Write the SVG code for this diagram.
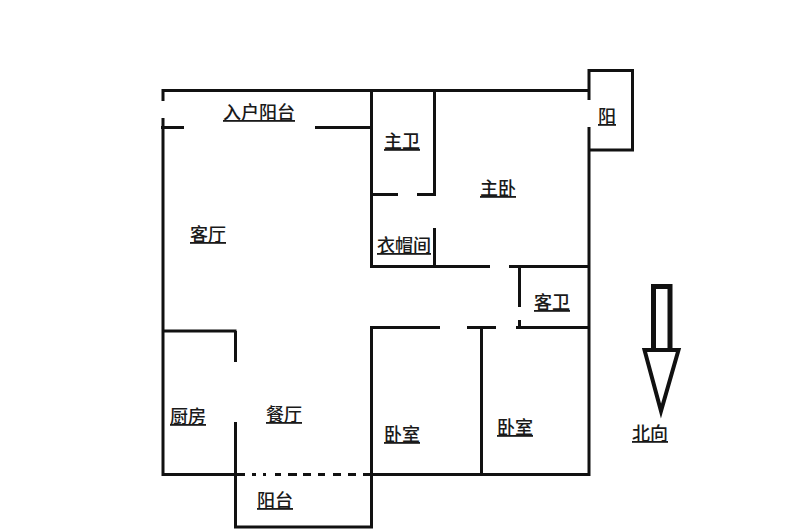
<svg xmlns="http://www.w3.org/2000/svg" width="800" height="531" viewBox="0 0 800 531">
<style>
.w{fill:none;stroke:#111;stroke-width:3;stroke-linecap:butt}
.t{font-family:"Noto Sans CJK SC","Noto Sans CJK JP",sans-serif;font-size:18px;font-weight:500;fill:#1a1a1a;text-decoration:underline}
</style>
<rect width="800" height="531" fill="#fff"/>
<g id="walls">
<path class="w" d="M163 101V90.500H589M163 118V474.500H236M161 127.500H184M315 127.500H372M371.500 92V266.500H490M434.500 91V195M372 194.500H398M417 194.500H436M434.500 228V266M509 266.500H590M519.500 266V307M519.500 320V328M516 327.500H590M467 327.500H496M371.500 527V327.500H440M589 100V70.500H632.500V150H589M589 127V474.500H371M163 331H236.500M235.500 331V362M235.500 422V527H373M481.500 328V474"/>
<path class="w" d="M236 474.500H245M252 474.500H256M263 474.500H266M275 474.500H281M288 474.500H297M303 474.500H311M318 474.500H325M333 474.500H341M348 474.500H356M363 474.500H372"/>
</g>
<g id="north-arrow">
<path d="M653.500 350V286.500H670V350" fill="none" stroke="#111" stroke-width="5"/>
<path d="M644.500 350H678.500L661 411Z" fill="none" stroke="#111" stroke-width="4" stroke-linejoin="miter"/>
</g>
<g id="labels">
<text class="t" x="223" y="119">入户阳台</text>
<text class="t" x="384" y="148">主卫</text>
<text class="t" x="480" y="195">主卧</text>
<text class="t" x="190" y="241">客厅</text>
<text class="t" x="377" y="252">衣帽间</text>
<text class="t" x="598" y="123">阳</text>
<text class="t" x="534" y="309">客卫</text>
<text class="t" x="170" y="423">厨房</text>
<text class="t" x="266" y="421">餐厅</text>
<text class="t" x="384" y="441">卧室</text>
<text class="t" x="497" y="434">卧室</text>
<text class="t" x="632" y="440">北向</text>
<text class="t" x="257" y="507">阳台</text>
</g>
</svg>
